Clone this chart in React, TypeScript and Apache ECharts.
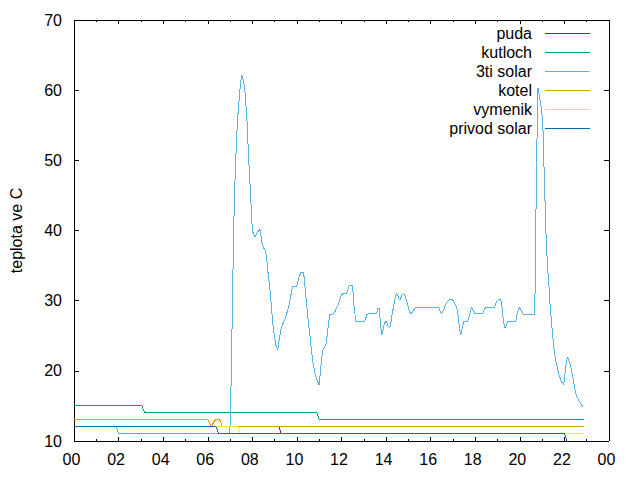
import React, { useEffect, useRef } from "react";
import * as echarts from "echarts";

type Pt = [number, number];

const seriesNames = ["puda", "kutloch", "3ti solar", "kotel", "vymenik", "privod solar"];
const seriesColors = ["#9400d3", "#009e73", "#56b4e9", "#e69f00", "#f0e442", "#0072b2"];

const hourTicks = [0, 2, 4, 6, 8, 10, 12, 14, 16, 18, 20, 22, 24];
const tempTicks = [10, 20, 30, 40, 50, 60, 70];

const puda: Pt[] = [[0, 12], [9.2, 12], [9.3, 11], [22.87, 11]];
const kutloch: Pt[] = [[0, 15], [3.05, 15], [3.17, 14], [10.9, 14], [11.0, 13], [22.87, 13]];
const kotel: Pt[] = [[0, 13], [6.01, 13], [6.16, 12], [6.28, 12.8], [6.35, 13], [6.54, 13], [6.66, 12], [22.87, 12]];
const vymenik: Pt[] = [[0, 12], [7.36, 12], [7.45, 11], [22.87, 11]];
const privodSolar: Pt[] = [[0, 12], [6.39, 12], [6.49, 11], [22.01, 11], [22.23, 9], [22.87, 9]];
const solar3ti: Pt[] = [
  [0, 12], [1.9, 12], [2.0, 11], [6.99, 11],
  [7.03, 15.4], [7.075, 23.4], [7.12, 31.8], [7.16, 39.8], [7.21, 46], [7.25, 49.6], [7.3, 53.4],
  [7.34, 56], [7.39, 57.9], [7.43, 59.6], [7.48, 61.2], [7.52, 62.2], [7.57, 61.7], [7.61, 61.2],
  [7.66, 60.3], [7.7, 58.4], [7.75, 56.5], [7.79, 53.4], [7.84, 50], [7.88, 47.5], [7.93, 44.6],
  [7.97, 41.5], [8.02, 39.8], [8.11, 39.1], [8.2, 39.6], [8.33, 40.2], [8.38, 39.5], [8.42, 38.4],
  [8.51, 37.5], [8.6, 37], [8.65, 35.8], [8.69, 34.4], [8.74, 33], [8.78, 32], [8.83, 30.1],
  [8.87, 28.7], [8.91, 27], [8.96, 25.8], [9.0, 24.7], [9.05, 23.7], [9.14, 23], [9.18, 24],
  [9.23, 24.9], [9.27, 25.8], [9.32, 26.3], [9.41, 27], [9.5, 27.7], [9.59, 28.7], [9.68, 29.9],
  [9.77, 31.5], [9.81, 32], [9.99, 32], [10.08, 33.2], [10.17, 34], [10.3, 34], [10.35, 32.5],
  [10.4, 30.6], [10.45, 29], [10.5, 27.3], [10.55, 25.9], [10.6, 24.6], [10.65, 23], [10.72, 21.1],
  [10.8, 19.9], [10.87, 19], [10.95, 18.3], [10.99, 18], [11.02, 18.7], [11.1, 21.5], [11.17, 23],
  [11.25, 23.4], [11.32, 24], [11.4, 26.3], [11.47, 28], [11.62, 28.1], [11.7, 28.4], [11.77, 28.9],
  [11.84, 29.4], [11.92, 30.1], [11.99, 30.8], [12.07, 31], [12.22, 31], [12.29, 31.6], [12.32, 32.1],
  [12.5, 32.1], [12.55, 29.6], [12.6, 28.2], [12.64, 27.1], [13.04, 27.1], [13.09, 27.5], [13.14, 28],
  [13.19, 28.1], [13.54, 28.1], [13.59, 28.4], [13.64, 28.9], [13.69, 28.9], [13.71, 28.2],
  [13.76, 26.3], [13.8, 25.1], [13.85, 25.6], [13.89, 26.3], [13.94, 26.8], [13.98, 27.1],
  [14.03, 26.9], [14.07, 26.5], [14.16, 26.1], [14.2, 26.5], [14.25, 27.6], [14.29, 28.4],
  [14.34, 29.2], [14.38, 30], [14.43, 30.6], [14.47, 31], [14.52, 30.8], [14.56, 30.4], [14.61, 30.1],
  [14.65, 30.3], [14.7, 30.7], [14.74, 30.9], [14.79, 31], [14.83, 30.8], [14.88, 30.3], [14.92, 30],
  [14.97, 29.5], [15.01, 28.9], [15.06, 28.4], [15.1, 28.2], [15.15, 28.1], [15.19, 28.4],
  [15.28, 28.9], [15.33, 29.05], [16.36, 29.05], [16.4, 28.7], [16.49, 28.1], [16.54, 28.4],
  [16.63, 29.1], [16.72, 29.7], [16.81, 30.1], [16.99, 30.1], [17.08, 29.6], [17.17, 29.05],
  [17.21, 28.3], [17.26, 27.1], [17.3, 25.8], [17.35, 25.1], [17.39, 25.8], [17.44, 26.3], [17.48, 27],
  [17.66, 27.1], [17.71, 27.6], [17.8, 28.7], [17.84, 29.05], [17.89, 28.7], [17.98, 28.1],
  [18.34, 28.1], [18.38, 28.6], [18.47, 29.05], [18.87, 29.05], [18.96, 29.9], [19.01, 30.1],
  [19.14, 30.1], [19.19, 29.5], [19.23, 28], [19.28, 26.8], [19.32, 26.1], [19.37, 26.3], [19.41, 26.7],
  [19.46, 27.1], [19.82, 27.1], [19.86, 27.7], [19.91, 28.4], [19.95, 28.8], [20.0, 29.05],
  [20.04, 28.8], [20.09, 28.4], [20.13, 28.1], [20.67, 28.05], [20.69, 33.4], [20.73, 44],
  [20.76, 50.3], [20.8, 60], [20.82, 60.3], [20.85, 59.6], [20.89, 58.8], [20.94, 58.1], [20.98, 56.9],
  [21.03, 55.5], [21.07, 50.5], [21.12, 45.5], [21.16, 40.5], [21.21, 37], [21.25, 34.6], [21.3, 32.5],
  [21.34, 30.1], [21.39, 28.2], [21.43, 26.5], [21.48, 24.9], [21.52, 23.4], [21.57, 22.3],
  [21.61, 21.5], [21.66, 20.8], [21.7, 20.1], [21.74, 19.6], [21.79, 19.2], [21.83, 18.7],
  [21.88, 18.3], [21.92, 18.4], [21.97, 18], [22.01, 19.2], [22.06, 20.6], [22.1, 21.5], [22.15, 22],
  [22.19, 21.5], [22.24, 21.1], [22.28, 20.6], [22.33, 19.9], [22.37, 19.2], [22.42, 18.4],
  [22.46, 17.5], [22.51, 16.8], [22.55, 16.3], [22.6, 16.1], [22.64, 15.8], [22.69, 15.6],
  [22.73, 15.4], [22.78, 15.1], [22.82, 14.9],
];

const seriesData: Pt[][] = [puda, kutloch, solar3ti, kotel, vymenik, privodSolar];

const FONT = "'Liberation Sans', Arial, sans-serif";

export default function App() {
  const ref = useRef<HTMLDivElement>(null);

  useEffect(() => {
    if (!ref.current) return;
    const chart = echarts.init(ref.current, undefined, { renderer: "svg" });
    const xMin = hourTicks[0];
    const xMax = hourTicks[hourTicks.length - 1];
    const xStep = hourTicks[1] - hourTicks[0];
    const yMin = tempTicks[0];
    const yMax = tempTicks[tempTicks.length - 1];
    const yStep = tempTicks[1] - tempTicks[0];
    const axisLine = { show: true, onZero: false, lineStyle: { color: "#000", width: 1 } };

    chart.setOption({
      animation: false,
      backgroundColor: "#fff",
      color: seriesColors,
      textStyle: { fontFamily: FONT },
      grid: { left: 74, right: 31, top: 20, bottom: 39 },
      legend: {
        show: true,
        orient: "vertical",
        align: "right",
        right: 50,
        top: 24,
        padding: 0,
        itemGap: 0,
        itemWidth: 45,
        itemHeight: 1,
        icon: "rect",
        selectedMode: false,
        itemStyle: { borderWidth: 0 },
        textStyle: {
          fontFamily: FONT,
          fontSize: 16,
          color: "#000",
          lineHeight: 19,
          padding: [0, 8, 0, 0],
        },
        data: seriesNames,
      },
      xAxis: [
        {
          type: "value",
          position: "bottom",
          min: xMin,
          max: xMax,
          interval: xStep,
          axisLine,
          axisTick: { show: true, inside: true, length: 4, lineStyle: { color: "#000" } },
          minorTick: { show: true, splitNumber: 2, length: 2, lineStyle: { color: "#000" } },
          splitLine: { show: false },
          axisLabel: {
            show: true,
            margin: 10,
            fontSize: 16,
            fontFamily: FONT,
            color: "#000",
            padding: [0, 5, 0, 0],
            formatter: (v: number) => String(Math.round(v) % 24).padStart(2, "0"),
          },
        },
        {
          type: "value",
          position: "top",
          min: xMin,
          max: xMax,
          interval: xStep,
          axisLine,
          axisTick: { show: true, inside: true, length: 4, lineStyle: { color: "#000" } },
          minorTick: { show: true, splitNumber: 2, length: 2, lineStyle: { color: "#000" } },
          splitLine: { show: false },
          axisLabel: { show: false },
        },
      ],
      yAxis: [
        {
          type: "value",
          position: "left",
          min: yMin,
          max: yMax,
          interval: yStep,
          name: "teplota ve C",
          nameLocation: "middle",
          nameGap: 50,
          nameTextStyle: { fontSize: 16, fontFamily: FONT, color: "#000" },
          axisLine,
          axisTick: { show: true, inside: true, length: 5, lineStyle: { color: "#000" } },
          splitLine: { show: false },
          axisLabel: { show: true, margin: 12, fontSize: 16, fontFamily: FONT, color: "#000" },
        },
        {
          type: "value",
          position: "right",
          min: yMin,
          max: yMax,
          interval: yStep,
          axisLine,
          axisTick: { show: true, inside: true, length: 5, lineStyle: { color: "#000" } },
          splitLine: { show: false },
          axisLabel: { show: false },
        },
      ],
      series: seriesNames.map((name, i) => ({
        name,
        type: "line",
        xAxisIndex: 0,
        yAxisIndex: 0,
        data: seriesData[i],
        showSymbol: false,
        symbol: "none",
        clip: true,
        silent: true,
        lineStyle: { width: 1, color: seriesColors[i] },
        itemStyle: { color: seriesColors[i] },
        emphasis: { disabled: true },
      })),
    });

    return () => chart.dispose();
  }, []);

  return (
    <div
      ref={ref}
      style={{
        position: "fixed",
        left: 0,
        top: 0,
        width: 640,
        height: 480,
        background: "#fff",
        shapeRendering: "crispEdges",
      } as React.CSSProperties}
    />
  );
}
